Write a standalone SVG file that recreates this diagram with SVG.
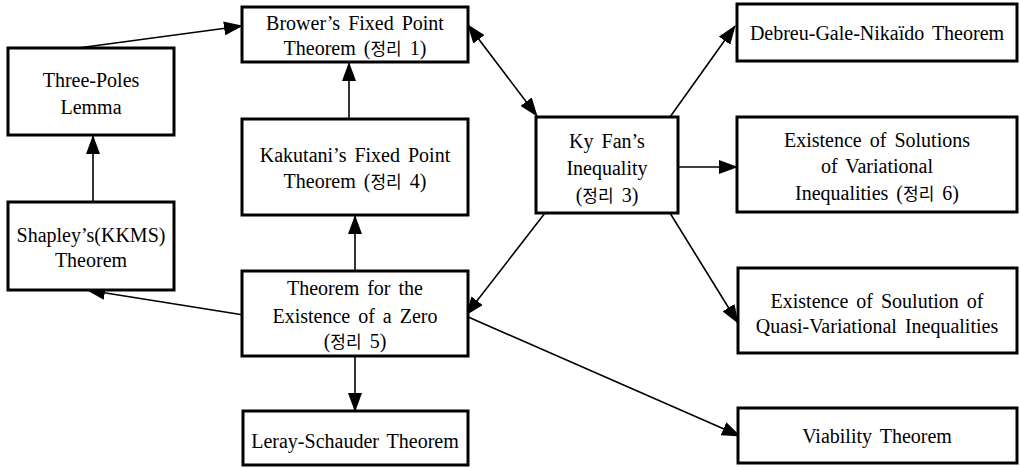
<svg xmlns="http://www.w3.org/2000/svg" width="1020" height="468" viewBox="0 0 1020 468">
<style>
.box{fill:#fff;stroke:#000;stroke-width:3}
.t{font-family:'Liberation Serif','DejaVu Serif',serif;font-size:20px;fill:#000;text-anchor:middle;word-spacing:3px}
.k{font-family:'Noto Sans CJK KR',sans-serif;font-size:17px}
.c{stroke:#000;stroke-width:1.6;fill:none;marker-end:url(#ah)}
</style>
<defs>
<marker id="ah" markerUnits="userSpaceOnUse" markerWidth="19" markerHeight="14" refX="18" refY="7" orient="auto-start-reverse" viewBox="0 0 19 14">
<path d="M0,0 L19,7 L0,14 z" fill="#000"/>
</marker>
</defs>
<rect width="1020" height="468" fill="#fff"/>
<g id="connectors">
<path class="c" d="M78,48 L242,26"/>
<path class="c" d="M93,202 L93,136"/>
<path class="c" d="M349,119 L349,63"/>
<path class="c" d="M355,271 L355,216"/>
<path class="c" style="marker-start:url(#ah)" d="M468,25 L537,116"/>
<path class="c" d="M670,117 L735,26"/>
<path class="c" d="M672,167 L737,167"/>
<path class="c" d="M670,213 L738,323"/>
<path class="c" d="M545,213 L466,315"/>
<path class="c" d="M250,316 L87,290"/>
<path class="c" d="M466,316 L740,436"/>
<path class="c" d="M355,356 L355,411"/>
</g>
<g id="brower"><rect class="box" x="242" y="7" width="226" height="55"/>
<text class="t" x="355" y="30">Brower’s Fixed Point</text><text class="t" x="355" y="55">Theorem (<tspan class="k">정리</tspan> 1)</text></g>
<g id="threepoles"><rect class="box" x="8" y="48" width="166" height="87"/>
<text class="t" x="91" y="87">Three-Poles</text><text class="t" x="91" y="114">Lemma</text></g>
<g id="kakutani"><rect class="box" x="242" y="119" width="226" height="96"/>
<text class="t" x="355" y="162">Kakutani’s Fixed Point</text><text class="t" x="355" y="188">Theorem (<tspan class="k">정리</tspan> 4)</text></g>
<g id="kyfan"><rect class="box" x="536" y="117" width="142" height="96"/>
<text class="t" x="607" y="148">Ky Fan’s</text><text class="t" x="607" y="175">Inequality</text><text class="t" x="607" y="202">(<tspan class="k">정리</tspan> 3)</text></g>
<g id="debreu"><rect class="box" x="737" y="4" width="280" height="57"/>
<text class="t" x="877" y="40">Debreu-Gale-Nikaïdo Theorem</text></g>
<g id="solutions"><rect class="box" x="737" y="117" width="280" height="95"/>
<text class="t" x="877" y="147">Existence of Solutions</text><text class="t" x="877" y="173">of Variational</text><text class="t" x="877" y="200">Inequalities (<tspan class="k">정리</tspan> 6)</text></g>
<g id="shapley"><rect class="box" x="8" y="202" width="166" height="88"/>
<text class="t" x="91" y="242">Shapley’s(KKMS)</text><text class="t" x="91" y="267">Theorem</text></g>
<g id="zero"><rect class="box" x="242" y="271" width="226" height="85"/>
<text class="t" x="355" y="295">Theorem for the</text><text class="t" x="355" y="323">Existence of a Zero</text><text class="t" x="355" y="348">(<tspan class="k">정리</tspan> 5)</text></g>
<g id="leray"><rect class="box" x="243" y="411" width="225" height="54"/>
<text class="t" x="355" y="448">Leray-Schauder Theorem</text></g>
<g id="quasi"><rect class="box" x="738" y="268" width="279" height="85"/>
<text class="t" x="877" y="308">Existence of Soulution of</text><text class="t" x="877" y="333">Quasi-Variational Inequalities</text></g>
<g id="viability"><rect class="box" x="738" y="408" width="279" height="55"/>
<text class="t" x="877" y="443">Viability Theorem</text></g>
</svg>
